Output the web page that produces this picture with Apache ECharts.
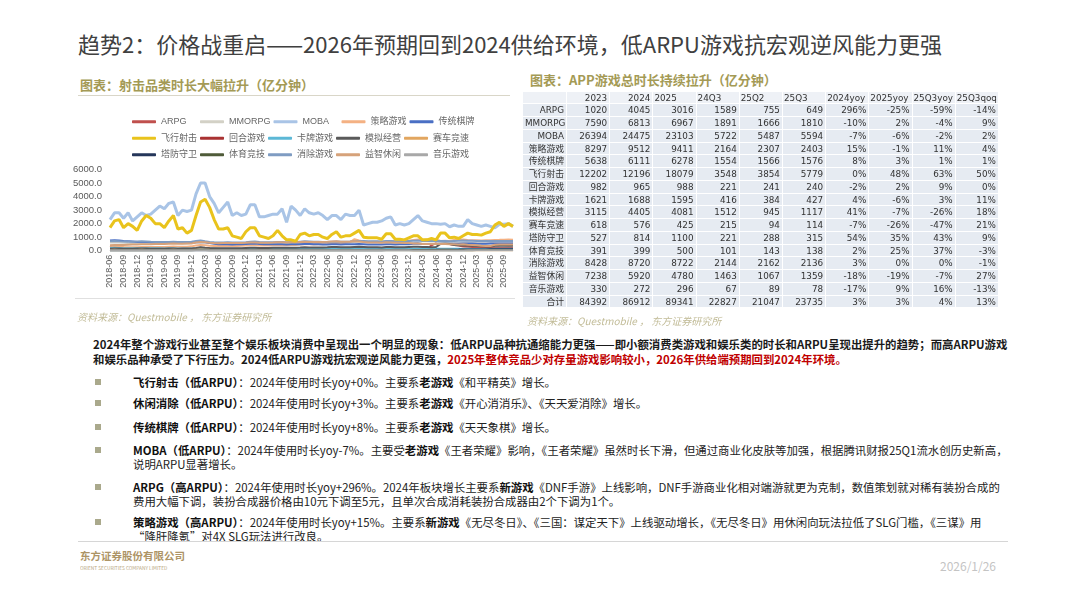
<!DOCTYPE html>
<html><head><meta charset="utf-8">
<script src="https://cdn.jsdelivr.net/npm/echarts@6/dist/echarts.min.js"></script>
<style>
html,body{margin:0;padding:0;background:#fff;}
body{width:1080px;height:608px;position:relative;overflow:hidden;font-family:"Noto Sans CJK SC","Noto Sans",sans-serif;color:#1a1a1a;}
.abs{position:absolute;white-space:nowrap;}
#chart{position:absolute;left:60px;top:100px;width:470px;height:200px;}
.title{left:78px;top:29px;font-size:22px;line-height:28px;color:#404040;}
.sub{font-size:13px;font-weight:bold;color:#a49a55;line-height:16px;}
.src{font-size:10px;font-style:italic;color:#c2bc98;line-height:14px;}
.hr{position:absolute;height:1px;background:#d9d6c8;}
#tbl{position:absolute;left:523px;top:91.6px;display:grid;grid-template-columns:44px repeat(10,43.2px);grid-auto-rows:12.75px;}
#tbl div{box-sizing:border-box;background:#e6ebf2;border-right:1px solid #fff;border-bottom:1px solid #fff;font-family:"DejaVu Sans","Noto Sans CJK SC",sans-serif;font-size:8.8px;line-height:12px;color:#333;white-space:nowrap;overflow:visible;padding:0 2px;}
#tbl div.h{background:#eef1f6;}
#tbl div.r{text-align:right;}
#tbl div.l{text-align:left;padding-left:1px;}
.para{left:93px;top:337px;font-size:11.4px;font-weight:bold;line-height:15px;}
.red{color:#c00000;}
.bul{position:absolute;left:95px;width:6px;height:6px;background:#aaa98c;}
.bt{left:133px;font-size:11.4px;line-height:14.5px;color:#222;}
.bt b{font-weight:bold;color:#111;}
</style></head>
<body>
<div class="abs title">趋势2：价格战重启——2026年预期回到2024供给环境，低ARPU游戏抗宏观逆风能力更强</div>
<div class="abs sub" style="left:80px;top:77px;">图表：射击品类时长大幅拉升（亿分钟）</div>
<div class="hr" style="left:78px;top:95px;width:432px;"></div>
<div id="chart"></div>
<div class="hr" style="left:75px;top:298px;width:440px;background:#e0e0e0;"></div>
<div class="abs src" style="left:77px;top:310px;">资料来源：Questmobile ， 东方证券研究所</div>

<div class="abs sub" style="left:530px;top:72px;">图表：APP游戏总时长持续拉升（亿分钟）</div>
<div id="tbl"></div>
<div class="abs src" style="left:527px;top:314px;">资料来源：Questmobile ， 东方证券研究所</div>

<div class="abs para">2024年整个游戏行业甚至整个娱乐板块消费中呈现出一个明显的现象：低ARPU品种抗通缩能力更强——即小额消费类游戏和娱乐类的时长和ARPU呈现出提升的趋势；而高ARPU游戏<br>和娱乐品种承受了下行压力。2024低ARPU游戏抗宏观逆风能力更强，<span class="red">2025年整体竞品少对存量游戏影响较小，2026年供给端预期回到2024年环境。</span></div>

<div class="bul" style="top:379px;"></div>
<div class="abs bt" style="top:374.5px;"><b>飞行射击（低ARPU）</b>：2024年使用时长yoy+0%。主要系<b>老游戏</b>《和平精英》增长。</div>
<div class="bul" style="top:400px;"></div>
<div class="abs bt" style="top:395.5px;"><b>休闲消除（低ARPU）</b>：2024年使用时长yoy+3%。主要系<b>老游戏</b>《开心消消乐》、《天天爱消除》增长。</div>
<div class="bul" style="top:424px;"></div>
<div class="abs bt" style="top:419.5px;"><b>传统棋牌（低ARPU）</b>：2024年使用时长yoy+8%。主要系<b>老游戏</b>《天天象棋》增长。</div>
<div class="bul" style="top:447px;"></div>
<div class="abs bt" style="top:442.5px;"><b>MOBA（低ARPU）</b>：2024年使用时长yoy-7%。主要受<b>老游戏</b>《王者荣耀》影响，《王者荣耀》虽然时长下滑，但通过商业化皮肤等加强，根据腾讯财报25Q1流水创历史新高，<br>说明ARPU显著增长。</div>
<div class="bul" style="top:484px;"></div>
<div class="abs bt" style="top:479.5px;"><b>ARPG（高ARPU）</b>：2024年使用时长yoy+296%。2024年板块增长主要系<b>新游戏</b>《DNF手游》上线影响，DNF手游商业化相对端游就更为克制，数值策划就对稀有装扮合成的<br>费用大幅下调，装扮合成器价格由10元下调至5元，且单次合成消耗装扮合成器由2个下调为1个。</div>
<div class="bul" style="top:519px;"></div>
<div class="abs bt" style="top:514.5px;"><b>策略游戏（高ARPU）</b>：2024年使用时长yoy+15%。主要系<b>新游戏</b>《无尽冬日》、《三国：谋定天下》上线驱动增长，《无尽冬日》用休闲向玩法拉低了SLG门槛，《三谋》用<br>“降肝降氪”对4X SLG玩法进行改良。</div>

<div class="hr" style="left:78px;top:541px;width:930px;background:#d6d6d6;"></div>
<div class="abs" style="left:80px;top:549px;font-size:10.5px;line-height:13px;color:#ad9466;font-weight:bold;">东方证券股份有限公司</div>
<div class="abs" style="left:80px;top:566px;font-size:8px;line-height:8px;color:#b9a77f;transform:scale(0.6);transform-origin:left top;">ORIENT SECURITIES COMPANY LIMITED</div>
<div class="abs" style="left:940px;top:558px;font-size:12px;line-height:16px;color:#c4c4c4;">2026/1/26</div>

<script>
// ---------- line chart data ----------
const months = [
"2018-06","2018-07","2018-08","2018-09","2018-10","2018-11","2018-12",
"2019-01","2019-02","2019-03","2019-04","2019-05","2019-06","2019-07","2019-08","2019-09","2019-10","2019-11","2019-12",
"2020-01","2020-02","2020-03","2020-04","2020-05","2020-06","2020-07","2020-08","2020-09","2020-10","2020-11","2020-12",
"2021-01","2021-02","2021-03","2021-04","2021-05","2021-06","2021-07","2021-08","2021-09","2021-10","2021-11","2021-12",
"2022-01","2022-02","2022-03","2022-04","2022-05","2022-06","2022-07","2022-08","2022-09","2022-10","2022-11","2022-12",
"2023-01","2023-02","2023-03","2023-04","2023-05","2023-06","2023-07","2023-08","2023-09","2023-10","2023-11","2023-12",
"2024-01","2024-02","2024-03","2024-04","2024-05","2024-06","2024-07","2024-08","2024-09","2024-10","2024-11","2024-12",
"2025-01","2025-02","2025-03","2025-04","2025-05","2025-06","2025-07","2025-08","2025-09","2025-10","2025-11"];

const seriesNames = ["ARPG","MMORPG","MOBA","策略游戏","传统棋牌","飞行射击","回合游戏","卡牌游戏","模拟经营","赛车竞速","塔防守卫","体育竞技","消除游戏","益智休闲","音乐游戏"];
const seriesColors = ["#c0504d","#d3d1c6","#a9c4e6","#f4b183","#4a6fc4","#e9c31c","#a93232","#5cb8d6","#5a5a5a","#e2a660","#25365a","#4f5b39","#7f9cc2","#d6a27a","#a8a8a8"];

const dARPG = [250,300,280,220,200,180,170,
130,130,120,120,120,110,110,110,100,100,100,100,
110,120,110,100,100,90,90,90,90,90,90,90,
90,90,90,90,90,90,90,90,80,80,80,80,
90,90,80,80,80,80,80,80,80,80,80,90,
90,90,80,80,80,80,90,90,80,80,80,100,
100,100,90,90,400,560,580,520,489,420,380,316,
300,280,260,250,250,255,230,215,204,210,200];
const dMMORPG = [600,620,600,580,560,550,560,
560,550,540,540,560,550,560,570,560,550,540,560,
620,650,620,580,560,540,540,560,540,540,550,560,
580,590,560,550,560,570,580,590,570,580,580,600,
620,610,600,600,610,620,640,650,630,640,640,660,
680,650,620,620,620,610,660,650,610,620,620,630,
560,560,520,520,540,530,640,640,611,560,560,572,
600,580,560,550,555,561,610,600,600,590,580];
const dMOBA = [2300,2800,2800,2400,2800,2200,2500,
2800,2600,2700,3000,3300,3100,3500,3600,2600,3000,2900,3000,
4200,5000,5000,4000,3500,2800,3200,3600,2600,2800,2600,2700,
3400,3400,2500,2500,2600,2700,2700,3100,2100,3300,3000,2600,
3100,2800,2700,2800,2600,2300,2600,2600,2300,2700,2600,2600,
3000,1900,2000,2100,2100,2200,2400,2500,1900,2000,1900,2000,
2300,2600,2200,2100,2000,2000,1950,2000,1770,1900,1800,1800,
2300,2000,1900,1800,1900,1800,1700,1950,1950,2000,1800];
const dStrategy = [250,300,320,280,260,250,260,
280,280,270,270,280,280,300,310,300,300,300,320,
380,420,400,370,350,340,340,350,340,350,360,380,
400,410,390,380,390,400,410,420,410,420,430,450,
470,470,460,470,480,490,520,540,550,580,620,850,
760,680,650,660,670,660,700,720,680,690,700,730,
800,820,780,830,850,830,720,730,714,800,810,828,
800,780,770,760,770,777,790,800,813,820,810];
const dChess = [750,780,760,720,700,680,650,
650,640,620,600,600,590,600,610,580,570,560,580,
620,650,620,560,520,480,470,480,460,470,480,500,
520,530,500,480,470,470,480,480,460,470,470,480,
500,490,470,470,460,450,470,470,460,470,470,480,
500,480,460,460,460,450,470,480,460,470,470,480,
520,540,500,500,500,490,520,520,514,510,510,530,
540,530,520,520,522,524,525,526,525,530,530];
const dShooter = [1700,2200,2300,1700,2000,1800,1500,
2200,2600,2400,2000,2000,1700,2200,2600,1600,1700,1300,1500,
2600,3600,3800,3200,2300,1600,1600,1700,1100,1000,900,1400,
1700,1700,1100,1000,900,1100,1500,1100,800,800,700,1200,
1300,1100,1200,1200,1000,900,1200,1400,1000,1100,1100,1300,
1500,1000,950,950,950,850,1250,1250,850,850,800,950,
1100,1100,800,800,900,800,1300,1300,950,1000,900,1100,
1300,1200,1200,1150,1300,1400,1900,2100,1800,2000,1800];
const dTurn = [120,120,120,110,110,110,110,
110,110,100,100,100,100,100,100,100,100,100,100,
110,120,110,100,100,90,90,90,90,90,90,90,
90,90,90,90,90,90,90,90,90,90,90,90,
90,90,80,80,80,80,80,80,80,80,80,90,
90,90,80,80,80,80,80,80,80,80,80,82,
90,90,80,80,80,80,74,74,73,80,80,84,
85,80,80,80,80,81,80,80,80,80,80];
const dCard = [200,210,200,190,190,180,190,
190,190,180,180,180,170,180,180,170,170,170,170,
190,210,190,170,160,150,150,150,150,150,150,150,
160,160,150,150,150,150,150,150,140,140,140,150,
150,150,140,140,140,140,150,150,140,140,140,150,
150,140,130,130,130,130,140,140,130,130,130,141,
150,150,140,140,140,140,140,140,136,140,140,132,
140,130,130,128,128,128,142,142,143,140,140];
const dSim = [150,160,160,150,150,150,160,
160,160,150,150,150,150,160,160,150,160,160,170,
200,260,220,200,190,180,180,190,180,180,190,200,
210,220,200,200,200,210,220,220,210,220,220,230,
250,240,230,240,240,250,270,280,260,260,260,280,
290,270,250,250,250,240,270,270,250,250,250,275,
300,300,280,270,260,270,500,520,492,420,400,393,
380,360,340,320,310,315,370,375,372,380,370];
const dRacing = [60,62,60,58,58,58,60,
62,60,58,58,60,58,60,62,58,58,58,60,
70,80,72,64,60,58,58,60,56,56,56,58,
60,60,56,55,55,56,58,58,55,55,55,56,
58,56,54,54,54,54,56,56,54,54,54,56,
58,54,50,50,50,50,54,54,50,50,48,50,
40,40,36,34,34,35,72,75,68,50,46,46,
36,34,32,31,31,32,38,38,38,36,35];
const dTower = [32,30,30,28,28,28,30,
30,30,28,28,28,28,30,30,28,28,28,30,
36,40,36,32,30,30,30,30,30,30,30,32,
34,34,32,32,32,32,34,34,32,32,34,36,
38,36,36,36,36,36,38,40,38,38,40,42,
44,42,40,40,42,42,46,46,44,44,46,51,
56,58,56,58,60,62,74,74,73,78,80,85,
90,88,88,92,96,100,104,105,106,108,110];
const dSports = [40,40,38,38,38,38,40,
40,38,36,36,36,36,38,38,36,36,36,38,
44,50,44,40,38,36,36,38,36,36,36,38,
40,40,36,36,36,36,38,38,36,36,36,38,
38,36,34,34,34,34,36,36,34,34,34,36,
36,34,32,32,32,32,34,34,31,31,31,32,
34,34,32,32,32,32,34,34,33,34,34,34,
42,42,44,46,48,49,46,46,46,46,45];
const dMatch = [700,720,700,680,680,660,680,
700,680,660,650,650,640,650,660,640,640,650,660,
720,760,700,650,620,600,600,620,600,600,610,630,
660,680,640,620,620,630,650,650,630,640,650,670,
690,680,660,660,650,650,670,680,660,670,680,700,
720,710,690,690,690,680,710,720,700,700,700,720,
740,750,720,720,730,720,720,720,704,720,730,746,
740,730,720,720,720,722,712,712,712,720,720];
const dPuzzle = [400,420,420,430,440,450,460,
470,480,480,490,500,500,520,530,520,520,530,540,
600,650,620,580,560,550,560,570,560,560,570,580,
600,610,590,580,590,600,620,630,610,620,620,640,
660,650,640,640,650,660,680,690,670,670,680,700,
680,640,610,600,600,590,620,610,580,580,560,570,
540,530,500,500,490,490,500,490,473,470,460,477,
440,420,400,370,350,347,440,460,459,460,450];
const dMusic = [40,40,38,38,38,36,36,
36,36,34,34,34,34,34,34,32,32,32,32,
36,40,36,34,32,32,32,32,30,30,30,30,
32,32,30,30,29,30,31,31,29,29,29,30,
30,30,28,28,28,28,29,29,28,28,28,29,
30,29,27,27,27,27,28,28,27,27,26,27,
24,24,22,22,22,22,23,22,22,22,23,24,
26,26,27,29,30,30,26,26,26,26,26];
const seriesData = [dARPG,dMMORPG,dMOBA,dStrategy,dChess,dShooter,dTurn,dCard,dSim,dRacing,dTower,dSports,dMatch,dPuzzle,dMusic];
const yTicks = {min:0, max:6000, interval:1000};

// ---------- table data ----------
const tableHeader = ["","2023","2024","2025","24Q3","25Q2","25Q3","2024yoy","2025yoy","25Q3yoy","25Q3qoq"];
const tableRows = ["ARPG","MMORPG","MOBA","策略游戏","传统棋牌","飞行射击","回合游戏","卡牌游戏","模拟经营","赛车竞速","塔防守卫","体育竞技","消除游戏","益智休闲","音乐游戏","合计"];
const t2023 = [1020,7590,26394,8297,5638,12202,982,1621,3115,618,527,391,8428,7238,330,84392];
const t2024 = [4045,6813,24475,9512,6111,12196,965,1688,4405,576,814,399,8720,5920,272,86912];
const t2025 = [3016,6967,23103,9411,6278,18079,988,1595,4081,425,1100,500,8722,4780,296,89341];
const t24Q3 = [1589,1891,5722,2164,1554,3548,221,416,1512,215,221,101,2144,1463,67,22827];
const t25Q2 = [755,1666,5487,2307,1566,3854,241,384,945,94,288,143,2162,1067,89,21047];
const t25Q3 = [649,1810,5594,2403,1576,5779,240,427,1117,114,315,138,2136,1359,78,23735];
const t2024yoy = ["296%","-10%","-7%","15%","8%","0%","-2%","4%","41%","-7%","54%","2%","3%","-18%","-17%","3%"];
const t2025yoy = ["-25%","2%","-6%","-1%","3%","48%","2%","-6%","-7%","-26%","35%","25%","0%","-19%","9%","3%"];
const t25Q3yoy = ["-59%","-4%","-2%","11%","1%","63%","9%","3%","-26%","-47%","43%","37%","0%","-7%","16%","4%"];
const t25Q3qoq = ["-14%","9%","2%","4%","1%","50%","0%","11%","18%","21%","9%","-3%","-1%","27%","-13%","13%"];

// build table
(function(){
  const tbl = document.getElementById('tbl');
  const headAlign = ['r','r','r','l','l','l','l','l','l','l','l'];
  tableHeader.forEach((h,i)=>{const d=document.createElement('div');d.className=headAlign[i]+' h';d.textContent=h;tbl.appendChild(d);});
  const cols=[t2023,t2024,t2025,t24Q3,t25Q2,t25Q3,t2024yoy,t2025yoy,t25Q3yoy,t25Q3qoq];
  tableRows.forEach((name,r)=>{
    const d=document.createElement('div');d.className='r';d.textContent=name;tbl.appendChild(d);
    cols.forEach(c=>{const e=document.createElement('div');e.className='r';e.textContent=String(c[r]);tbl.appendChild(e);});
  });
})();

// build chart
const chart = echarts.init(document.getElementById('chart'), null, {renderer:'canvas'});
const option = {
  animation:false,
  legend:{
    data:seriesNames, left:67, top:10, width:345, orient:'horizontal',
    itemWidth:24, itemHeight:3, itemGap:3, icon:'roundRect',
    textStyle:{fontSize:9, color:'#666', width:36, lineHeight:13.5, overflow:'none', fontFamily:'"Liberation Sans","Noto Sans CJK SC",sans-serif'}
  },
  grid:{left:50, top:69.5, width:403, height:81.2},
  xAxis:{
    type:'category', data:months, boundaryGap:false,
    axisLine:{show:true, lineStyle:{color:'#d9d9d9'}}, axisTick:{show:false},
    axisLabel:{interval:2, rotate:90, fontSize:9, color:'#595959', margin:4, fontFamily:'"Liberation Sans",sans-serif'}
  },
  yAxis:{
    type:'value', min:yTicks.min, max:yTicks.max, interval:yTicks.interval,
    splitLine:{show:false}, axisLine:{show:false}, axisTick:{show:false},
    axisLabel:{formatter:v=>v.toFixed(1), fontSize:9.5, color:'#595959', margin:8, fontFamily:'"Liberation Sans",sans-serif'}
  },
  series: seriesNames.map((n,i)=>({
    name:n, type:'line', data:seriesData[i], showSymbol:false, symbol:'none',
    z:(n==='MOBA'||n==='飞行射击')?5:2,
    lineStyle:{width:(n==='MOBA'||n==='飞行射击')?3:2, color:seriesColors[i]},
    itemStyle:{color:seriesColors[i]}
  }))
};
chart.setOption(option);
</script>
</body></html>
